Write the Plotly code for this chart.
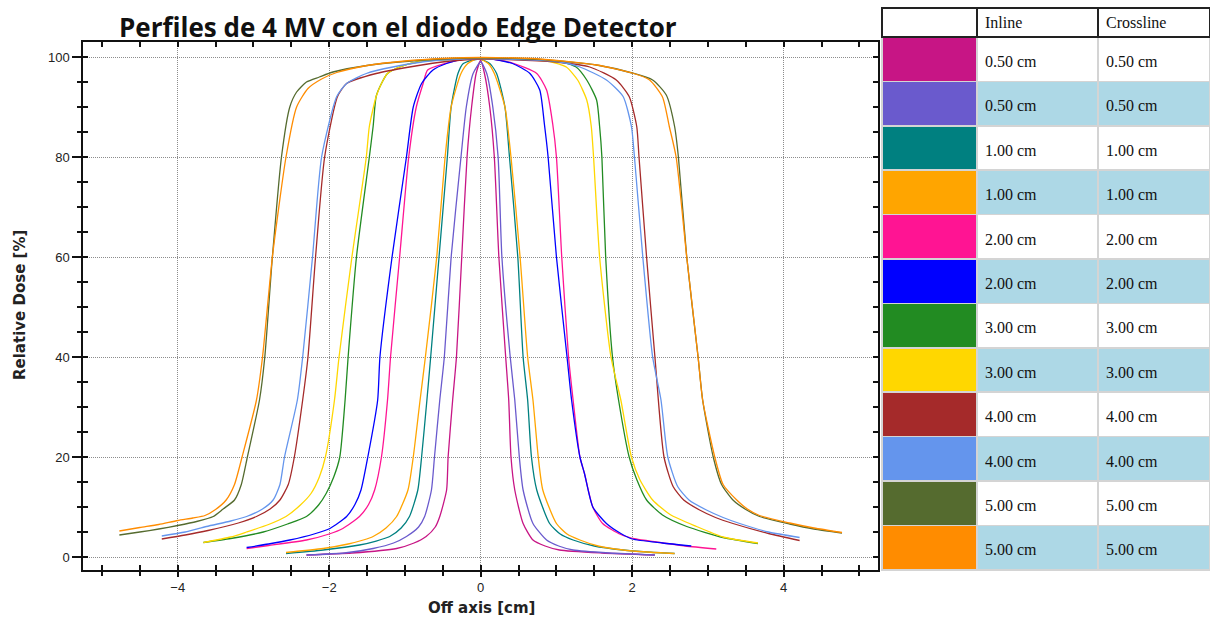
import plotly.graph_objects as go

# Perfiles medidos: distancia al eje [cm] y dosis relativa [%]
x_050_a = [-2.30, -1.70, -1.11, -0.88, -0.72, -0.60, -0.54, -0.45, -0.43, -0.37, -0.32, -0.25, -0.18, -0.12, -0.06,
           0.00, 0.05, 0.12, 0.18, 0.24, 0.33, 0.37, 0.40, 0.45, 0.56, 0.69, 0.85, 1.04, 1.60, 2.30]
y_050_a = [0.4, 0.8, 1.7, 2.8, 4.1, 6.0, 8.1, 13.4, 20.0, 31.4, 40.0, 60.0, 80.0, 90.0, 96.7,
           99.3, 96.7, 90.0, 80.0, 60.0, 40.0, 31.4, 20.0, 13.4, 6.7, 3.4, 2.2, 1.4, 0.8, 0.4]

x_050_b = [-2.30, -1.80, -1.42, -1.15, -0.98, -0.82, -0.74, -0.65, -0.61, -0.54, -0.48, -0.39, -0.26, -0.19, -0.10,
           0.00, 0.08, 0.16, 0.23, 0.28, 0.39, 0.45, 0.51, 0.56, 0.69, 0.87, 1.03, 1.22, 1.70, 2.30]
y_050_b = [0.4, 0.8, 1.7, 2.8, 4.1, 6.0, 8.1, 13.4, 20.0, 31.4, 40.0, 60.0, 80.0, 90.0, 96.7,
           99.0, 96.7, 90.0, 80.0, 60.0, 40.0, 31.4, 20.0, 13.4, 6.7, 3.4, 2.2, 1.4, 0.8, 0.4]

x_100_a = [-2.57, -2.08, -1.60, -1.38, -1.20, -1.05, -0.94, -0.83, -0.78, -0.71, -0.66, -0.55, -0.44, -0.39, -0.30,
           -0.23, -0.02, 0.12, 0.21, 0.32, 0.38, 0.49, 0.56, 0.62, 0.67, 0.74, 0.91, 1.05, 1.22, 1.50,
           1.88, 2.20, 2.56]
y_100_a = [0.7, 1.4, 2.4, 3.2, 4.1, 5.8, 8.1, 13.4, 20.0, 31.4, 40.0, 60.0, 80.0, 90.0, 96.7,
           98.7, 99.6, 98.7, 96.7, 90.0, 80.0, 60.0, 40.0, 31.4, 20.0, 13.4, 6.7, 4.6, 3.4, 2.2,
           1.4, 1.0, 0.7]

x_100_b = [-2.57, -2.08, -1.75, -1.55, -1.42, -1.25, -1.11, -0.96, -0.89, -0.80, -0.73, -0.58, -0.47, -0.39, -0.26,
           -0.17, -0.03, 0.10, 0.18, 0.32, 0.40, 0.52, 0.62, 0.69, 0.76, 0.82, 1.00, 1.14, 1.31, 1.55,
           1.88, 2.20, 2.56]
y_100_b = [0.9, 1.7, 2.6, 3.4, 4.1, 5.8, 8.1, 13.4, 20.0, 31.4, 40.0, 60.0, 80.0, 90.0, 96.7,
           98.7, 99.7, 98.7, 96.7, 90.0, 80.0, 60.0, 40.0, 31.4, 20.0, 13.4, 6.7, 4.6, 3.4, 2.2,
           1.4, 1.0, 0.7]

x_200_a = [-3.09, -2.80, -2.30, -2.00, -1.82, -1.60, -1.48, -1.40, -1.31, -1.23, -1.19, -1.07, -0.95, -0.85, -0.76,
           -0.70, -0.45, -0.20, 0.10, 0.42, 0.74, 0.87, 0.95, 1.00, 1.07, 1.16, 1.22, 1.31, 1.37, 1.48,
           1.61, 1.85, 2.05, 2.32, 2.70, 3.11]
y_200_a = [1.7, 2.3, 3.4, 4.6, 5.7, 8.1, 10.5, 13.4, 20.0, 31.4, 40.0, 60.0, 80.0, 90.0, 94.7,
           97.4, 98.8, 99.6, 99.7, 98.8, 96.7, 93.4, 86.7, 80.0, 60.0, 40.0, 31.4, 20.0, 16.7, 10.0,
           6.7, 4.5, 3.6, 3.0, 2.2, 1.6]

x_200_b = [-3.09, -2.80, -2.52, -2.20, -1.99, -1.77, -1.66, -1.58, -1.49, -1.36, -1.33, -1.17, -0.98, -0.89, -0.78,
           -0.63, -0.45, -0.19, 0.10, 0.42, 0.65, 0.78, 0.84, 0.89, 1.00, 1.14, 1.20, 1.31, 1.37, 1.48,
           1.66, 1.85, 2.00, 2.40, 2.78]
y_200_b = [1.9, 2.6, 3.4, 4.6, 5.7, 8.1, 10.5, 13.4, 20.0, 31.4, 40.0, 60.0, 80.0, 90.0, 94.7,
           97.4, 98.7, 99.7, 99.7, 98.7, 96.7, 93.4, 86.7, 80.0, 60.0, 40.0, 31.4, 20.0, 16.7, 10.0,
           6.7, 4.7, 3.6, 2.8, 2.2]

x_300_a = [-3.66, -3.30, -2.87, -2.55, -2.30, -2.14, -2.04, -1.94, -1.86, -1.79, -1.75, -1.64, -1.47, -1.42, -1.38,
           -1.31, -1.23, -1.07, -0.80, -0.30, 0.00, 0.40, 1.04, 1.26, 1.40, 1.53, 1.57, 1.60, 1.65, 1.74,
           1.82, 1.96, 2.06, 2.19, 2.40, 2.72, 3.20, 3.66]
y_300_a = [2.9, 3.7, 5.0, 6.6, 8.1, 10.4, 12.7, 16.0, 20.0, 31.4, 40.0, 60.0, 80.0, 86.1, 92.1,
           94.7, 96.7, 98.0, 99.1, 99.6, 99.7, 99.6, 99.1, 98.0, 95.4, 91.4, 86.1, 80.0, 60.0, 40.0,
           31.4, 20.0, 15.5, 11.4, 8.4, 6.1, 3.9, 2.7]

x_300_b = [-3.66, -3.30, -3.09, -2.80, -2.57, -2.38, -2.24, -2.13, -2.05, -1.93, -1.87, -1.70, -1.51, -1.47, -1.38,
           -1.31, -1.23, -1.07, -0.80, -0.30, 0.00, 0.40, 0.91, 1.13, 1.28, 1.40, 1.46, 1.49, 1.57, 1.72,
           1.85, 1.99, 2.10, 2.27, 2.50, 2.85, 3.20, 3.66]
y_300_b = [2.9, 4.0, 5.0, 6.5, 8.1, 10.4, 12.7, 16.0, 20.0, 31.4, 40.0, 60.0, 80.0, 86.1, 92.1,
           94.7, 96.7, 98.0, 99.1, 99.6, 99.7, 99.6, 99.1, 98.0, 95.4, 91.4, 86.1, 80.0, 60.0, 40.0,
           31.4, 20.0, 15.5, 11.4, 8.5, 6.1, 4.0, 2.8]

x_400_a = [-4.21, -3.90, -3.60, -3.20, -2.96, -2.78, -2.65, -2.54, -2.46, -2.35, -2.28, -2.18, -2.06, -1.89, -1.77,
           -1.38, -0.94, -0.40, 0.00, 0.50, 1.00, 1.44, 1.79, 1.96, 2.06, 2.09, 2.19, 2.30, 2.42, 2.54,
           2.68, 2.89, 3.10, 3.33, 3.80, 4.21]
y_400_a = [3.6, 4.4, 5.3, 6.8, 8.1, 9.6, 11.4, 14.5, 20.0, 31.4, 40.0, 60.0, 80.0, 92.1, 94.7,
           96.7, 98.0, 99.2, 99.6, 99.4, 99.0, 98.0, 95.4, 92.1, 86.1, 80.0, 60.0, 40.0, 20.0, 14.1,
           11.4, 9.4, 7.9, 6.7, 4.7, 3.3]

x_400_b = [-4.21, -3.90, -3.62, -3.30, -3.09, -2.88, -2.74, -2.65, -2.59, -2.42, -2.35, -2.22, -2.10, -1.90, -1.77,
           -1.51, -1.16, -0.60, 0.00, 0.50, 1.00, 1.31, 1.66, 1.88, 1.99, 2.03, 2.14, 2.27, 2.38, 2.47,
           2.60, 2.75, 2.98, 3.20, 3.42, 3.80, 4.21]
y_400_b = [4.2, 5.0, 6.1, 7.2, 8.1, 9.6, 11.4, 14.5, 20.0, 31.4, 40.0, 60.0, 80.0, 92.1, 94.7,
           96.7, 98.0, 99.3, 99.7, 99.5, 99.1, 98.0, 95.4, 92.1, 86.1, 80.0, 60.0, 40.0, 31.4, 20.0,
           14.1, 11.4, 9.4, 7.9, 6.7, 5.0, 3.9]

x_500_a = [-4.77, -4.50, -4.25, -4.00, -3.75, -3.53, -3.40, -3.25, -3.16, -3.08, -2.92, -2.85, -2.75, -2.63, -2.52,
           -2.43, -2.30, -2.13, -1.95, -1.50, -1.00, -0.50, 0.00, 0.78, 1.53, 2.00, 2.27, 2.45, 2.56, 2.61,
           2.72, 2.87, 2.93, 3.07, 3.18, 3.33, 3.50, 3.68, 4.08, 4.40, 4.77]
y_500_a = [4.4, 5.0, 5.6, 6.3, 7.1, 8.1, 9.6, 11.4, 14.5, 20.0, 31.4, 40.0, 60.0, 80.0, 90.0,
           93.0, 95.0, 96.0, 97.0, 98.3, 99.1, 99.6, 99.8, 99.5, 98.4, 96.8, 95.4, 92.4, 86.1, 80.0,
           60.0, 40.0, 31.4, 20.0, 14.5, 11.4, 9.5, 8.1, 6.6, 5.6, 4.8]

x_500_b = [-4.77, -4.50, -4.25, -4.00, -3.80, -3.64, -3.50, -3.36, -3.25, -3.15, -2.96, -2.88, -2.75, -2.57, -2.43,
           -2.28, -2.10, -1.90, -1.50, -1.00, -0.50, 0.00, 0.78, 1.53, 2.00, 2.23, 2.40, 2.49, 2.58, 2.72,
           2.87, 2.93, 3.09, 3.20, 3.38, 3.52, 3.68, 4.08, 4.40, 4.77]
y_500_b = [5.2, 5.9, 6.5, 7.3, 7.8, 8.3, 9.5, 11.4, 14.5, 20.0, 31.4, 40.0, 60.0, 80.0, 90.0,
           93.7, 95.6, 96.9, 98.3, 99.2, 99.7, 99.9, 99.6, 98.4, 96.8, 95.4, 92.0, 86.1, 80.0, 60.0,
           40.0, 31.4, 20.0, 14.5, 11.4, 9.6, 8.3, 6.8, 5.8, 4.9]

curve_colors = ["#C71585", "#6A5ACD", "#008080", "#FFA500", "#FF1493", "#0000FF",
                "#228B22", "#FFD700", "#A52A2A", "#6495ED", "#556B2F", "#FF8C00"]
inline_labels = ["0.50 cm", "0.50 cm", "1.00 cm", "1.00 cm", "2.00 cm", "2.00 cm",
                 "3.00 cm", "3.00 cm", "4.00 cm", "4.00 cm", "5.00 cm", "5.00 cm"]
crossline_labels = ["0.50 cm", "0.50 cm", "1.00 cm", "1.00 cm", "2.00 cm", "2.00 cm",
                    "3.00 cm", "3.00 cm", "4.00 cm", "4.00 cm", "5.00 cm", "5.00 cm"]
header_labels = ["", "Inline", "Crossline"]
x_ticks = [-4, -2, 0, 2, 4]
y_ticks = [0, 20, 40, 60, 80, 100]

profiles = [
    (x_050_a, y_050_a), (x_050_b, y_050_b),
    (x_100_a, y_100_a), (x_100_b, y_100_b),
    (x_200_a, y_200_a), (x_200_b, y_200_b),
    (x_300_a, y_300_a), (x_300_b, y_300_b),
    (x_400_a, y_400_a), (x_400_b, y_400_b),
    (x_500_a, y_500_a), (x_500_b, y_500_b),
]

W, H = 1210, 619
X_DOM = [83 / W, 878 / W]
Y_DOM = [1 - 570 / H, 1 - 42 / H]
X_RANGE = [-5.25, 5.245]
Y_RANGE = [-2.6, 103]
INK = "#111111"

fig = go.Figure()

for (xs, ys), col, lab in zip(profiles, curve_colors, inline_labels):
    fig.add_trace(go.Scatter(x=xs, y=ys, mode="lines", name=lab,
                             line=dict(color=col, width=1.3, shape="spline", smoothing=0.6),
                             showlegend=False))

# eje superpuesto: sólo sirve para dibujar las marcas interiores (arriba/derecha/abajo/izquierda)
fig.add_trace(go.Scatter(x=[None], y=[None], xaxis="x2", yaxis="y2", mode="lines",
                         showlegend=False, hoverinfo="skip"))

# Tabla de colores / tamaños de campo (una línea vacía pequeña centra el texto en la fila)
def cell_text(label):
    return "\u00a0<br><span style='font-size:16px'>" + label + "</span>"


row_fill = ["white" if i % 2 == 0 else "#ADD8E6" for i in range(len(inline_labels))]
fig.add_trace(go.Table(
    domain=dict(x=[882 / W, 1.0], y=[0.0, 1 - 8 / H]),
    columnwidth=[95, 121, 112],
    header=dict(values=header_labels, fill_color="white",
                line=dict(color="#222222", width=1.5),
                font=dict(family="Liberation Serif", size=16, color=INK),
                align="left", height=29),
    cells=dict(values=[[""] * len(inline_labels),
                       [cell_text(v) for v in inline_labels],
                       [cell_text(v) for v in crossline_labels]],
               fill_color=[curve_colors, row_fill, row_fill],
               line=dict(color="#d4d4d4", width=1.5),
               font=dict(family="Liberation Serif", size=10, color=INK),
               align="left", height=44.4),
))

tick_font = dict(family="Liberation Sans", size=13, color="#222222")
grid = dict(showgrid=True, gridcolor="#8c8c8c", griddash="1px,1px", gridwidth=1)

fig.update_layout(
    width=W, height=H,
    margin=dict(l=0, r=0, t=0, b=0),
    paper_bgcolor="white", plot_bgcolor="white",
    xaxis=dict(domain=X_DOM, range=X_RANGE, tickvals=x_ticks, ticks="outside", ticklen=5,
               tickwidth=1.5, tickcolor=INK, showline=True, linecolor=INK,
               linewidth=1.5, mirror=True, zeroline=False, tickfont=tick_font, **grid,
               minor=dict(dtick=0.5, tick0=0, ticks="outside", ticklen=4, tickwidth=1.5,
                          tickcolor=INK, showgrid=False)),
    yaxis=dict(domain=Y_DOM, range=Y_RANGE, tickvals=y_ticks, ticks="outside", ticklen=9,
               tickwidth=1.5, tickcolor=INK, showline=True, linecolor=INK,
               linewidth=1.5, mirror=True, zeroline=False, tickfont=tick_font, **grid,
               minor=dict(dtick=5, tick0=0, ticks="outside", ticklen=4, tickwidth=1.5,
                          tickcolor=INK, showgrid=False)),
    xaxis2=dict(domain=X_DOM, range=X_RANGE, overlaying="x", anchor="y2", tickmode="linear",
                tick0=0, dtick=0.5, ticks="inside", ticklen=5, tickwidth=1.5,
                tickcolor=INK, mirror="ticks", showline=False, showgrid=False,
                zeroline=False, showticklabels=False),
    yaxis2=dict(domain=Y_DOM, range=Y_RANGE, overlaying="y", anchor="x2", tickmode="linear",
                tick0=0, dtick=5, ticks="inside", ticklen=5, tickwidth=1.5,
                tickcolor=INK, mirror="ticks", showline=False, showgrid=False,
                zeroline=False, showticklabels=False),
    annotations=[
        dict(text="Perfiles de 4 MV con el diodo Edge Detector", xref="paper", yref="paper",
             x=398 / W, y=1 - 27 / H, xanchor="center", yanchor="middle", showarrow=False,
             font=dict(family="Open Sans", size=26, color=INK, weight=700)),
        dict(text="Relative Dose [%]", xref="paper", yref="paper", x=20 / W, y=1 - 305 / H,
             xanchor="center", yanchor="middle", textangle=-90, showarrow=False,
             font=dict(family="DejaVu Sans", size=15, color="#222222", weight=700)),
        dict(text="Off axis [cm]", xref="paper", yref="paper", x=481 / W, y=1 - 608 / H,
             xanchor="center", yanchor="middle", showarrow=False,
             font=dict(family="DejaVu Sans", size=15, color="#222222", weight=700)),
    ],
)

fig.write_html("out.html")
